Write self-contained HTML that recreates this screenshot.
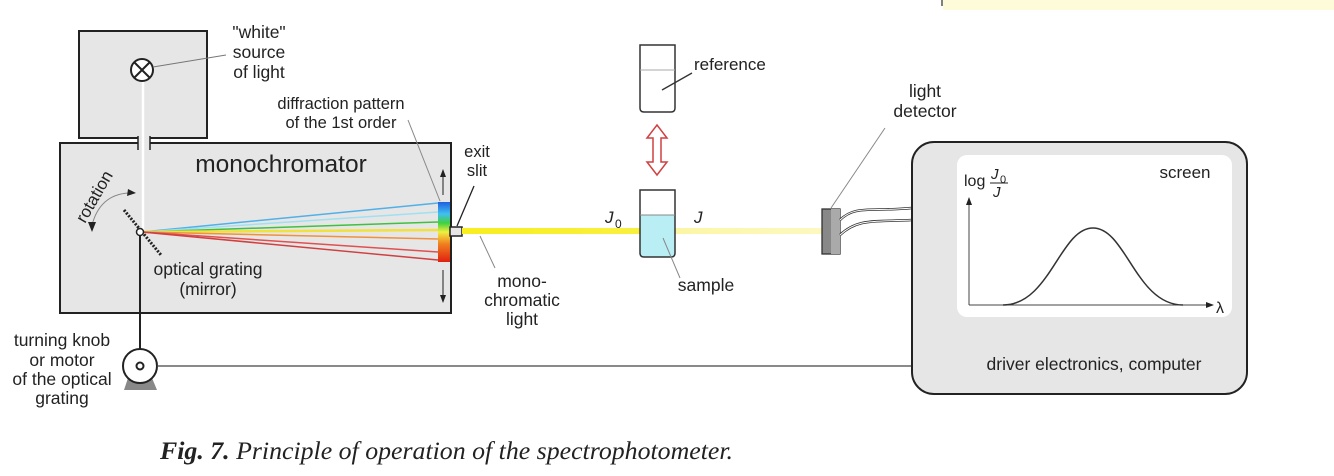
<!DOCTYPE html>
<html><head><meta charset="utf-8"><style>
html,body{margin:0;padding:0;background:#fff;}
svg text{font-family:"Liberation Sans",sans-serif;fill:#222;}
</style></head><body>
<svg width="1334" height="471" viewBox="0 0 1334 471" xmlns="http://www.w3.org/2000/svg">
<defs>
<linearGradient id="spec" x1="0" y1="0" x2="0" y2="1">
<stop offset="0" stop-color="#2060e0"/><stop offset="0.2" stop-color="#40c0f0"/><stop offset="0.35" stop-color="#40d040"/><stop offset="0.5" stop-color="#f0f040"/><stop offset="0.7" stop-color="#f08020"/><stop offset="1" stop-color="#e02010"/>
</linearGradient>
<linearGradient id="beam" x1="0" y1="0" x2="1" y2="0">
<stop offset="0" stop-color="#f8ee20"/><stop offset="0.5" stop-color="#f8f040"/><stop offset="0.52" stop-color="#fbf6a0"/><stop offset="1" stop-color="#fcf8c0"/>
</linearGradient>
<marker id="ah" markerWidth="8" markerHeight="8" refX="7" refY="4" orient="auto" markerUnits="userSpaceOnUse"><path d="M0,1 L8,4 L0,7 z" fill="#222"/></marker>
</defs>
<rect x="943" y="0" width="391" height="10" fill="#fefbd8"/>
<line x1="942" y1="0" x2="942" y2="6" stroke="#555" stroke-width="1.5"/>

<rect x="79" y="31" width="128" height="107" fill="#e6e6e6" stroke="#222" stroke-width="2"/>
<rect x="60" y="143" width="391" height="170" fill="#e6e6e6" stroke="#222" stroke-width="2"/>
<rect x="138" y="136" width="12" height="14" fill="#e6e6e6"/>
<line x1="138" y1="136" x2="138" y2="150" stroke="#222" stroke-width="1.5"/>
<line x1="150" y1="136" x2="150" y2="150" stroke="#222" stroke-width="1.5"/>
<line x1="143" y1="82" x2="143" y2="232" stroke="#fff" stroke-width="2.5"/>
<circle cx="142" cy="70" r="11" fill="#fff" stroke="#222" stroke-width="2"/>
<path d="M134,62 L150,78 M150,62 L134,78" stroke="#222" stroke-width="2"/>
<line x1="153" y1="67" x2="226" y2="55" stroke="#777" stroke-width="1"/>
<text x="259" y="38" font-size="17.5" text-anchor="middle">"white"</text>
<text x="259" y="58" font-size="17.5" text-anchor="middle">source</text>
<text x="259" y="78" font-size="17.5" text-anchor="middle">of light</text>
<text x="281" y="172" font-size="24.5" text-anchor="middle">monochromator</text>
<g stroke-width="1.5">
<line x1="142" y1="232" x2="438" y2="203" stroke="#50b0e8"/>
<line x1="142" y1="232" x2="438" y2="212" stroke="#a0e0f0"/>
<line x1="142" y1="232" x2="438" y2="222" stroke="#40c040"/>
<line x1="142" y1="232" x2="438" y2="230" stroke="#f0e040" stroke-width="2.5"/>
<line x1="142" y1="232" x2="438" y2="239" stroke="#f09040"/>
<line x1="142" y1="232" x2="438" y2="252" stroke="#e05050"/>
<line x1="142" y1="232" x2="438" y2="260" stroke="#d04040"/>
</g>
<rect x="438" y="202" width="12" height="60" fill="url(#spec)"/>
<line x1="443" y1="195" x2="443" y2="170" stroke="#222" stroke-width="1" marker-end="url(#ah)"/>
<line x1="443" y1="270" x2="443" y2="302" stroke="#222" stroke-width="1" marker-end="url(#ah)"/>
<line x1="408" y1="120" x2="440" y2="201" stroke="#888" stroke-width="1"/>
<text x="341" y="109" font-size="16.5" text-anchor="middle">diffraction pattern</text>
<text x="341" y="128" font-size="16.5" text-anchor="middle">of the 1st order</text>
<rect x="450" y="227" width="12" height="9" fill="#e6e6e6" stroke="#222" stroke-width="1.5"/>
<line x1="457" y1="226" x2="474" y2="186" stroke="#222" stroke-width="1.3"/>
<text x="477" y="157" font-size="16.5" text-anchor="middle">exit</text>
<text x="477" y="176" font-size="16.5" text-anchor="middle">slit</text>
<line x1="124" y1="210" x2="161" y2="255" stroke="#222" stroke-width="3" stroke-dasharray="2,1.5"/>
<circle cx="140" cy="232" r="3.5" fill="#fff" stroke="#222" stroke-width="1.5"/>
<path d="M92,225 Q100,195 128,193" fill="none" stroke="#888" stroke-width="1"/>
<path d="M128,189 L136,193 L127,196 z" fill="#222"/>
<path d="M88,222 L92,232 L96,222 z" fill="#222"/>
<text font-size="17" transform="translate(85,224) rotate(-60)">rotation</text>
<text x="208" y="275" font-size="17.5" text-anchor="middle">optical grating</text>
<text x="208" y="295" font-size="17.5" text-anchor="middle">(mirror)</text>
<line x1="140" y1="236" x2="140" y2="350" stroke="#222" stroke-width="2"/>
<path d="M124,390 L128,378 L152,378 L157,390 z" fill="#888"/>
<circle cx="140" cy="366" r="17" fill="#fff" stroke="#222" stroke-width="2"/>
<circle cx="140" cy="366" r="3.5" fill="#fff" stroke="#222" stroke-width="2"/>
<line x1="157" y1="366" x2="912" y2="366" stroke="#444" stroke-width="1.3"/>
<text x="62" y="346" font-size="17.5" text-anchor="middle">turning knob</text>
<text x="62" y="366" font-size="17.5" text-anchor="middle">or motor</text>
<text x="62" y="385" font-size="17.5" text-anchor="middle">of the optical</text>
<text x="62" y="404" font-size="17.5" text-anchor="middle">grating</text>
<rect x="462" y="228" width="362" height="6" fill="url(#beam)"/>
<line x1="480" y1="236" x2="495" y2="268" stroke="#888" stroke-width="1"/>
<text x="522" y="287" font-size="17.5" text-anchor="middle">mono-</text>
<text x="522" y="306" font-size="17.5" text-anchor="middle">chromatic</text>
<text x="522" y="325" font-size="17.5" text-anchor="middle">light</text>
<path d="M640,45 L675,45 L675,108 Q675,112 671,112 L644,112 Q640,112 640,108 z" fill="#fff" stroke="#333" stroke-width="1.5"/>
<line x1="640" y1="70" x2="675" y2="70" stroke="#aaa" stroke-width="1"/>
<line x1="662" y1="90" x2="692" y2="73" stroke="#333" stroke-width="1.3"/>
<text x="694" y="70" font-size="17">reference</text>
<path d="M657,125 L667,138 L661,138 L661,162 L667,162 L657,175 L647,162 L653,162 L653,138 L647,138 z" fill="#fff" stroke="#d04040" stroke-width="1.5"/>
<path d="M640,215 L675,215 L675,253 Q675,257 671,257 L644,257 Q640,257 640,253 z" fill="#b8eef4"/>
<path d="M640,190 L675,190 L675,253 Q675,257 671,257 L644,257 Q640,257 640,253 z" fill="none" stroke="#333" stroke-width="1.5"/>
<line x1="640" y1="215" x2="675" y2="215" stroke="#888" stroke-width="1"/>
<line x1="663" y1="238" x2="680" y2="278" stroke="#888" stroke-width="1"/>
<text x="706" y="291" font-size="17.5" text-anchor="middle">sample</text>
<text x="605" y="223" font-size="17" font-style="italic">J</text><text x="615" y="228" font-size="12">0</text>
<text x="694" y="223" font-size="17" font-style="italic">J</text>
<rect x="822" y="209" width="18" height="45" fill="#888" stroke="#333" stroke-width="1.3"/>
<rect x="831" y="209" width="9" height="45" fill="#aaa"/>
<path d="M840,220 C855,205 870,212 912,208" fill="none" stroke="#333" stroke-width="2.5"/>
<path d="M840,220 C855,205 870,212 912,208" fill="none" stroke="#fff" stroke-width="1"/>
<path d="M840,235 C858,218 875,222 912,220" fill="none" stroke="#333" stroke-width="2.5"/>
<path d="M840,235 C858,218 875,222 912,220" fill="none" stroke="#fff" stroke-width="1"/>
<line x1="831" y1="208" x2="885" y2="128" stroke="#888" stroke-width="1"/>
<text x="925" y="97" font-size="17.5" text-anchor="middle">light</text>
<text x="925" y="117" font-size="17.5" text-anchor="middle">detector</text>
<rect x="912" y="142" width="335" height="252" rx="22" fill="#e6e6e6" stroke="#222" stroke-width="2"/>
<rect x="957" y="155" width="275" height="162" rx="10" fill="#fff"/>
<line x1="969" y1="305" x2="969" y2="198" stroke="#444" stroke-width="1" marker-end="url(#ah)"/>
<line x1="969" y1="305" x2="1213" y2="305" stroke="#444" stroke-width="1" marker-end="url(#ah)"/>
<path d="M1003,305 C1050,305 1060,228 1093,228 C1126,228 1136,305 1183,305" fill="none" stroke="#333" stroke-width="1.5"/>
<text x="1216" y="313" font-size="16">λ</text>
<text x="964" y="186" font-size="16">log</text>
<text x="991" y="179" font-size="15" font-style="italic">J</text><text x="1000" y="183" font-size="11">0</text>
<line x1="990" y1="183" x2="1008" y2="183" stroke="#222" stroke-width="1"/>
<text x="993" y="197" font-size="15" font-style="italic">J</text>
<text x="1185" y="178" font-size="17" text-anchor="middle">screen</text>
<text x="1094" y="370" font-size="17.5" text-anchor="middle">driver electronics, computer</text>
<text x="160" y="459" font-size="25" font-style="italic" textLength="573" lengthAdjust="spacingAndGlyphs" style="font-family:'Liberation Serif',serif"><tspan font-weight="bold">Fig. 7.</tspan> Principle of operation of the spectrophotometer.</text>
</svg>
</body></html>
